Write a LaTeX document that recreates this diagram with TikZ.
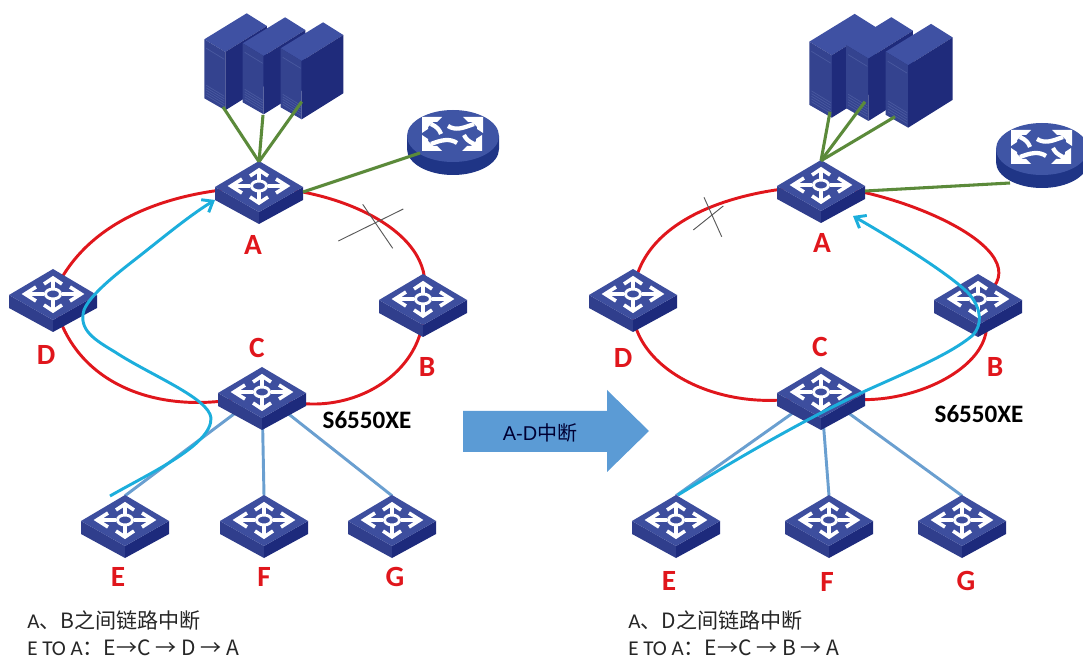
\documentclass[tikz,border=0pt]{standalone}
\usepackage{fontspec}
\setmainfont{Carlito}
\newfontfamily\cjk{Noto Sans CJK SC}
\newfontfamily\arl{Liberation Sans}
\usetikzlibrary{arrows.meta,shapes.geometric}
\pgfdeclarelayer{bg}
\pgfsetlayers{bg,main}
\definecolor{swtop}{HTML}{3D4E9E}
\definecolor{swleft}{HTML}{303E8C}
\definecolor{swright}{HTML}{1D2A7C}
\definecolor{srvtop}{HTML}{3F51A3}
\definecolor{srvfront}{HTML}{34438F}
\definecolor{srvlite}{HTML}{4A5AA0}
\definecolor{srvright}{HTML}{1F2B7B}
\definecolor{rttop}{HTML}{3F55A5}
\definecolor{rtside}{HTML}{1F3586}
\definecolor{ringred}{HTML}{E0161C}
\definecolor{linkgreen}{HTML}{5B8A3A}
\definecolor{linkblue}{HTML}{6A9FD0}
\definecolor{pathcyan}{HTML}{1CAEDC}
\definecolor{bigarrow}{HTML}{5B9BD5}
\tikzset{
  swn/.style={diamond,aspect=1.76,minimum width=66pt,minimum height=37.5pt,inner sep=0pt},
  rtn/.style={ellipse,minimum width=69pt,minimum height=39pt,inner sep=0pt},
  ring/.style={draw=ringred,line width=2.2pt},
  green link/.style={draw=linkgreen,line width=2.3pt},
  blue link/.style={draw=linkblue,line width=2.2pt},
  cyan path/.style={draw=pathcyan,line width=2.2pt,-{Straight Barb[length=7pt,width=11pt,line width=2.2pt]}},
  crossline/.style={draw=black!65,line width=0.7pt},
  letter/.style={text=ringred,font=\fontsize{22}{22}\selectfont\bfseries,inner sep=0pt},
  model/.style={text=black,font=\fontsize{18.8}{19}\selectfont\bfseries,inner sep=0pt},
  note/.style={anchor=west,text=black!85,font=\fontsize{15.8}{16}\selectfont,inner sep=0pt},
  glyph/.style={draw=white,line width=2.7pt,line cap=butt,line join=miter},
}
\newcommand{\swt}[3]{%
  \begin{scope}[shift={(#2,#3)}]
    \fill[swleft] (-44,0) -- (0,25) -- (0,37) -- (-44,13) -- cycle;
    \fill[swright] (44,0) -- (0,25) -- (0,37) -- (44,13) -- cycle;
    \fill[swtop] (-44,0) -- (0,-26) -- (44,0) -- (0,25) -- cycle;
    \draw[glyph] (-9,-1) -- (-27,-1) (-17,-8) -- (-28,-1) -- (-17,6);
    \draw[glyph] (9,-1) -- (27,-1) (17,-8) -- (28,-1) -- (17,6);
    \draw[glyph] (0,-6) -- (0,-16) (-9,-11) -- (0,-17) -- (9,-11);
    \draw[glyph] (0,4) -- (0,15) (-9,10) -- (0,16) -- (9,10);
    \draw[white,line width=2.2pt] (0,-1) ellipse [x radius=7.5,y radius=5];
  \end{scope}
  \node[swn] (#1) at (#2,#3) {};
}
\newcommand{\srv}[4]{%
  \begin{scope}[shift={(#2,#3)},scale=#4]
    \fill[srvtop] (0,0) -- (42.4,-26) -- (62.6,-13.3) -- (21,12.7) -- cycle;
    \fill[srvfront] (0,0) -- (21,12.7) -- (21,71) -- (0,59) -- cycle;
    \fill[srvright] (21,12.7) -- (62.6,-13.3) -- (62.6,45) -- (21,71) -- cycle;
    \draw[srvlite,line width=0.5pt] (2,9) -- (20,20);
    \foreach \k in {0,1,2,3,4} {\draw[srvlite,line width=0.5pt] (2,46+2.5*\k) -- (20,57+2.5*\k);}
  \end{scope}
  \coordinate (#1) at (#2,#3);
}
\newcommand{\rhead}[3]{%
  \fill[white,shift={(#1,#2)},#3] (0,0) -- (20,0) -- (15,5) -- (11,5) -- (6,10) -- (6,12) -- (0,16) -- cycle;
}
\newcommand{\rtr}[3]{%
  \begin{scope}
    \clip (0,0) rectangle (1083,659);
    \fill[rtside] (#2-46,#3) -- (#2-46,#3+13) arc[start angle=180,end angle=360,x radius=46,y radius=-26] -- (#2+46,#3) -- cycle;
    \fill[rttop] (#2,#3) ellipse [x radius=46,y radius=26];
    \begin{scope}[shift={(#2,#3-1)}]
      \draw[white,line width=3.2pt] (-12,-1) .. controls (-14,-6) and (-16,-8) .. (-22,-11);
      \rhead{-31}{-18}{}
      \draw[white,line width=3.2pt] (-5,-9) .. controls (3,-4) and (10,-7) .. (21,-11);
      \rhead{30}{-18}{xscale=-1}
      \draw[white,line width=3.2pt] (11,0) .. controls (13,4) and (15,6) .. (21,9);
      \rhead{29}{16}{xscale=-1,yscale=-1}
      \draw[white,line width=3.2pt] (4,8) .. controls (-3,3) and (-12,5) .. (-22,9);
      \rhead{-31}{16}{yscale=-1}
    \end{scope}
  \end{scope}
  \node[rtn] (#1) at (#2,#3) {};
}
\begin{document}
\begin{tikzpicture}[x=0.75pt,y=-0.75pt]
\useasboundingbox (0,0) rectangle (1083,659);

% ---------- left network
\srv{LS1}{204.3}{39.3}{1}
\srv{LS2}{242.7}{43.3}{1}
\srv{LS3}{280.7}{48.3}{1}
\rtr{LR}{453}{136}
\swt{LA}{259}{187}
\swt{LD}{53}{295}
\swt{LB}{423}{300}
\swt{LC}{262}{393}
\swt{LE}{125}{521}
\swt{LF}{264}{521}
\swt{LG}{392}{521}

% ---------- right network
\srv{RS1}{809.3}{41.7}{1.07}
\srv{RS2}{846}{45}{1.07}
\srv{RS3}{885.7}{51.7}{1.07}
\rtr{RR}{1042}{149}
\swt{RA}{821}{186}
\swt{RD}{633}{295}
\swt{RB}{978}{300}
\swt{RC}{821}{393}
\swt{RE}{676}{521}
\swt{RF}{829}{521}
\swt{RG}{962}{521}

% ---------- connectors behind the switches
\begin{pgfonlayer}{bg}
  \draw[ring] (LA.center) .. controls (170,190) and (85,220) .. (LD.center);
  \draw[ring] (LA.center) .. controls (345,190) and (440,235) .. (LB.center);
  \draw[ring] (LB.center) .. controls (432,375) and (340,428) .. (LC.center);
  \draw[ring] (LC.center) .. controls (170,420) and (70,390) .. (LD.center);
  \draw[blue link] (LC.center) -- (LE.north);
  \draw[blue link] (LC.center) -- (LF.north);
  \draw[blue link] (LC.center) -- (LG.north);

  \draw[ring] (RA.center) .. controls (745,188) and (640,215) .. (RD.center);
  \draw[ring] (RA.center) .. controls (900,190) and (1055,255) .. (RB.center);
  \draw[ring] (RB.center) .. controls (1020,360) and (900,420) .. (RC.center);
  \draw[ring] (RC.center) .. controls (730,420) and (622,370) .. (RD.center);
  \draw[blue link] (RC.center) -- (RE.north);
  \draw[blue link] (RC.center) -- (RF.north);
  \draw[blue link] (RC.center) -- (RG.north);
\end{pgfonlayer}

% ---------- green links
\coordinate (LS1b) at (223,107);
\coordinate (LS2b) at (263,115);
\coordinate (LS3b) at (301.7,101.7);
\coordinate (RS1b) at (830,111.7);
\coordinate (RS2b) at (865,101.7);
\coordinate (RS3b) at (895,116.7);
\coordinate (LAe) at (303,192);
\coordinate (RAe) at (865,191);
\coordinate (LRe) at (420,153);
\coordinate (RRe) at (1010,183);
\draw[green link] (LA.north) -- (LS1b);
\draw[green link] (LA.north) -- (LS2b);
\draw[green link] (LA.north) -- (LS3b);
\draw[green link] (LAe) -- (LRe);
\draw[green link] (RA.north) -- (RS1b);
\draw[green link] (RA.north) -- (RS2b);
\draw[green link] (RA.north) -- (RS3b);
\draw[green link] (RAe) -- (RRe);

% ---------- cyan traffic paths
\coordinate (LPs) at (110,496);
\coordinate (LPe) at (215,200);
\coordinate (RPs) at (678,495);
\coordinate (RPe) at (853,216);
\draw[cyan path] (LPs) .. controls (150,473) and (212,445) .. (211,418)
  .. controls (209,398) and (150,375) .. (115,352)
  .. controls (95,340) and (78,330) .. (84,310)
  .. controls (90,295) and (115,275) .. (137,258)
  .. controls (160,240) and (190,215) .. (LPe);
\draw[cyan path] (RPs) .. controls (740,457) and (800,422) .. (863,392)
  .. controls (900,375) and (950,355) .. (973,335)
  .. controls (982,325) and (982,310) .. (970,295)
  .. controls (955,278) and (900,243) .. (RPe);

% ---------- break marks
\coordinate (X1a) at (362.7,204.3);
\coordinate (X1b) at (392.7,248.3);
\coordinate (X2a) at (338.3,241);
\coordinate (X2b) at (403.3,209);
\coordinate (X3a) at (704,197.3);
\coordinate (X3b) at (721.7,236.7);
\coordinate (X4a) at (693.3,230);
\coordinate (X4b) at (723.3,206);
\draw[crossline] (X1a) -- (X1b);
\draw[crossline] (X2a) -- (X2b);
\draw[crossline] (X3a) -- (X3b);
\draw[crossline] (X4a) -- (X4b);

% ---------- big arrow
\node[inner sep=0pt,text=black!80!blue,font=\arl\fontsize{15}{15}\selectfont] (arrowtext) at (540,433) {A-D\cjk{中断}};
\begin{pgfonlayer}{bg}
  \fill[bigarrow] (463,411) -- (607,411) -- (607,390) -- (649,431) -- (607,472) -- (607,452) -- (463,452) -- cycle;
\end{pgfonlayer}

% ---------- labels
\node[letter] (tLA) at (253,245) {A};
\node[letter] (tLD) at (46,355) {D};
\node[letter] (tLC) at (257,348) {C};
\node[letter] (tLB) at (427,367) {B};
\node[letter] (tLE) at (118,577) {E};
\node[letter] (tLF) at (264,577) {F};
\node[letter] (tLG) at (395,577) {G};
\node[model] (tLM) at (367,420) {S6550XE};

\node[letter] (tRA) at (822,243) {A};
\node[letter] (tRD) at (623,358) {D};
\node[letter] (tRC) at (820,347) {C};
\node[letter] (tRB) at (995,367) {B};
\node[letter] (tRE) at (669,581) {E};
\node[letter] (tRF) at (827,582) {F};
\node[letter] (tRG) at (966,581) {G};
\node[model] (tRM) at (979,414) {S6550XE};

\node[note] (n1) at (27,620) {A\cjk{、}B\cjk{之间链路中断}};
\node[note] (n2) at (27,648) {E TO A\cjk{：}E\cjk{→}C \cjk{→} D \cjk{→} A};
\node[note] (n3) at (628,620) {A\cjk{、}D\cjk{之间链路中断}};
\node[note] (n4) at (628,648) {E TO A\cjk{：}E\cjk{→}C \cjk{→} B \cjk{→} A};
\end{tikzpicture}
\end{document}
